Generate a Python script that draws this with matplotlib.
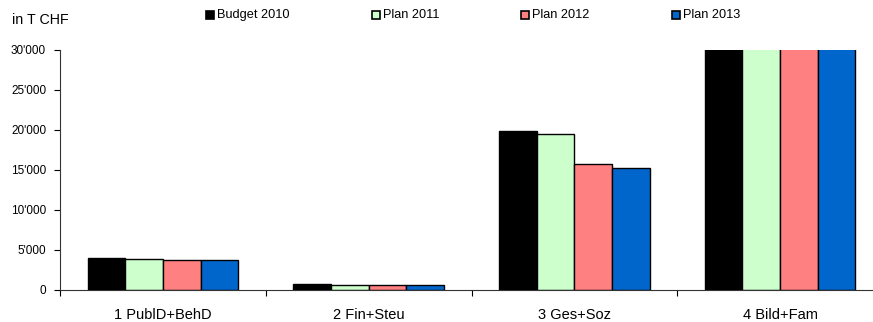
import matplotlib.pyplot as plt
import numpy as np
from matplotlib.patches import Rectangle
from matplotlib.ticker import FuncFormatter

plt.rcParams["font.family"] = ["Liberation Sans", "DejaVu Sans"]

categories = ["1 PublD+BehD", "2 Fin+Steu", "3 Ges+Soz", "4 Bild+Fam"]
series = ["Budget 2010", "Plan 2011", "Plan 2012", "Plan 2013"]
budget_2010 = [4050, 720, 19850, 46000]
plan_2011 = [3900, 640, 19500, 45500]
plan_2012 = [3800, 640, 15800, 46500]
plan_2013 = [3750, 640, 15300, 47000]
colors = ["#000000", "#ccffcc", "#ff8080", "#0066cc"]
y_ticks = [0, 5000, 10000, 15000, 20000, 25000, 30000]

values = [budget_2010, plan_2011, plan_2012, plan_2013]

fig = plt.figure(figsize=(8.73, 3.22), dpi=100)
W, H = 873, 322
# axes: left 60px, right 883px (runs past the edge), bottom 290px, top 50px
ax = fig.add_axes([60 / W, (H - 290) / H, (883 - 60) / W, (290 - 50) / H])

x = np.arange(len(categories))
width = 0.183
for i, (vals, col) in enumerate(zip(values, colors)):
    ax.bar(x + (i - 1.5) * width, vals, width, color=col,
           edgecolor="black", linewidth=1.0, zorder=2)

ax.set_xlim(-0.5, len(categories) - 0.5)
ax.set_ylim(0, 30000)
ax.set_yticks(y_ticks)
ax.yaxis.set_major_formatter(FuncFormatter(lambda v, p: f"{int(v):,}".replace(",", "'")))
ax.tick_params(axis="y", labelsize=8.5, length=4, width=0.8, direction="out", pad=6)

ax.set_xticks(np.arange(len(categories) + 1) - 0.5)
ax.set_xticklabels([])
ax.set_xticks(x, minor=True)
ax.set_xticklabels(categories, minor=True, fontsize=10.5)
ax.tick_params(axis="x", which="major", length=4, width=0.8, direction="out")
ax.tick_params(axis="x", which="minor", length=0, pad=13)

for s in ["top", "right"]:
    ax.spines[s].set_visible(False)
for s in ["left", "bottom"]:
    ax.spines[s].set_linewidth(0.8)
    ax.spines[s].set_color("#333333")

fig.text(12 / W, 1 - 20 / H, "in T CHF", fontsize=10.3, va="center", ha="left")

# legend entries placed like the original
legend_x = [206, 372, 521, 672]
for lx, name, col in zip(legend_x, series, colors):
    fig.patches.append(Rectangle((lx / W, 1 - 19 / H), 8 / W, 8 / H,
                                 transform=fig.transFigure, facecolor=col,
                                 edgecolor="black", linewidth=1.2))
    fig.text((lx + 11) / W, 1 - 15 / H, name, fontsize=9.2, va="center", ha="left")

fig.savefig("out.png", dpi=100)
